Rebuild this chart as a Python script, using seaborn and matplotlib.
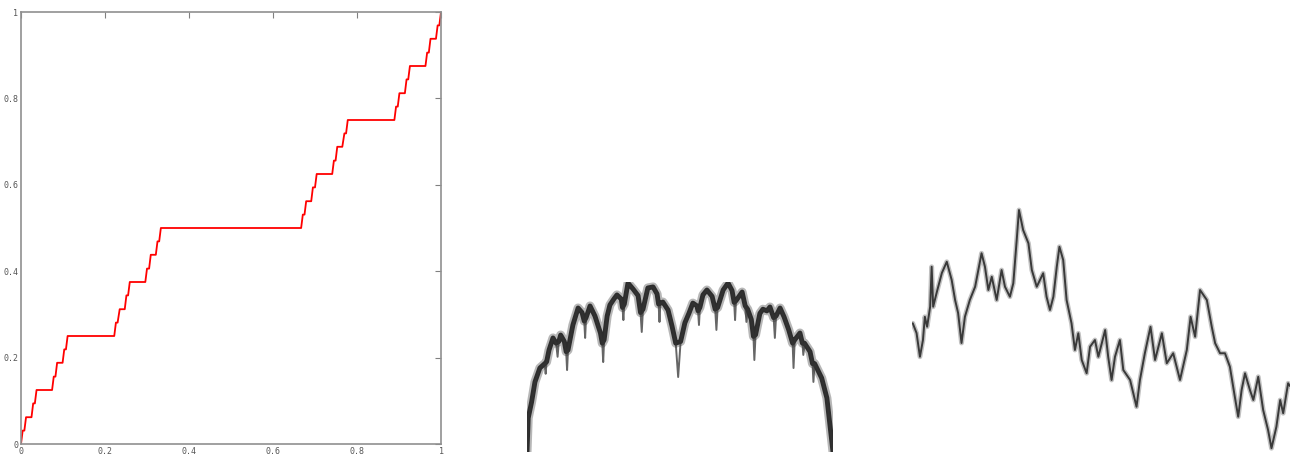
import numpy as np
import pandas as pd
import seaborn as sns
import matplotlib.pyplot as plt

# лестница Кантора: горизонтальные ступени (начало, конец, уровень)
step_start = [0.004, 0.012, 0.029, 0.037, 0.078, 0.086, 0.103, 0.111, 0.226, 0.235, 0.251,
              0.259, 0.300, 0.309, 0.325, 0.333, 0.671, 0.679, 0.695, 0.704, 0.745, 0.753,
              0.770, 0.778, 0.893, 0.901, 0.918, 0.926, 0.967, 0.975, 0.992]
step_end = [0.008, 0.025, 0.033, 0.074, 0.082, 0.099, 0.107, 0.222, 0.230, 0.247, 0.255,
            0.296, 0.305, 0.321, 0.329, 0.667, 0.675, 0.691, 0.700, 0.741, 0.749, 0.765,
            0.774, 0.889, 0.897, 0.914, 0.922, 0.963, 0.971, 0.988, 0.996]
step_level = [0.031, 0.062, 0.094, 0.125, 0.156, 0.188, 0.219, 0.250, 0.281, 0.312, 0.344,
              0.375, 0.406, 0.438, 0.469, 0.500, 0.531, 0.562, 0.594, 0.625, 0.656, 0.688,
              0.719, 0.750, 0.781, 0.812, 0.844, 0.875, 0.906, 0.938, 0.969]

# средняя кривая ("арка" с узкими провалами)
arch_t = [0.000, 0.004, 0.015, 0.026, 0.042, 0.058, 0.061, 0.064, 0.072, 0.085,
          0.095, 0.100, 0.104, 0.110, 0.122, 0.128, 0.131, 0.134, 0.150, 0.167,
          0.180, 0.187, 0.190, 0.193, 0.206, 0.222, 0.240, 0.246, 0.249, 0.252,
          0.262, 0.271, 0.284, 0.294, 0.308, 0.312, 0.315, 0.318, 0.330, 0.346,
          0.363, 0.371, 0.375, 0.379, 0.395, 0.412, 0.425, 0.430, 0.433, 0.436,
          0.444, 0.461, 0.474, 0.486, 0.494, 0.502, 0.516, 0.529, 0.542, 0.555,
          0.559, 0.562, 0.565, 0.575, 0.588, 0.605, 0.615, 0.619, 0.623, 0.641,
          0.657, 0.670, 0.677, 0.680, 0.683, 0.703, 0.713, 0.717, 0.721, 0.733,
          0.740, 0.743, 0.747, 0.761, 0.771, 0.784, 0.794, 0.806, 0.810, 0.814,
          0.827, 0.840, 0.855, 0.868, 0.871, 0.875, 0.892, 0.900, 0.903, 0.907,
          0.925, 0.933, 0.936, 0.940, 0.963, 0.980, 0.990, 1.000]
arch_v = [0.000, 0.200, 0.294, 0.412, 0.494, 0.520, 0.460, 0.530, 0.600, 0.671,
          0.640, 0.560, 0.650, 0.688, 0.650, 0.590, 0.482, 0.600, 0.747, 0.847,
          0.820, 0.770, 0.671, 0.790, 0.859, 0.800, 0.700, 0.640, 0.529, 0.660,
          0.800, 0.865, 0.900, 0.924, 0.900, 0.850, 0.776, 0.870, 0.994, 0.960,
          0.920, 0.820, 0.706, 0.840, 0.965, 0.971, 0.930, 0.870, 0.765, 0.875,
          0.882, 0.835, 0.740, 0.640, 0.441, 0.650, 0.760, 0.815, 0.876, 0.860,
          0.830, 0.747, 0.850, 0.924, 0.953, 0.915, 0.840, 0.718, 0.850, 0.953,
          0.994, 0.950, 0.880, 0.776, 0.890, 0.941, 0.860, 0.765, 0.840, 0.780,
          0.680, 0.541, 0.690, 0.815, 0.840, 0.830, 0.853, 0.790, 0.671, 0.800,
          0.847, 0.795, 0.720, 0.640, 0.494, 0.660, 0.700, 0.640, 0.571, 0.640,
          0.590, 0.520, 0.412, 0.520, 0.435, 0.318, 0.159, 0.000]

# правая кривая (блуждание)
walk_t = [0.002, 0.012, 0.021, 0.029, 0.034, 0.040, 0.048, 0.052, 0.056, 0.065, 0.079, 0.092,
          0.105, 0.114, 0.122, 0.131, 0.140, 0.153, 0.167, 0.184, 0.193, 0.202, 0.211, 0.224,
          0.237, 0.246, 0.259, 0.268, 0.277, 0.283, 0.294, 0.308, 0.317, 0.330, 0.347, 0.356,
          0.365, 0.374, 0.383, 0.390, 0.400, 0.409, 0.422, 0.431, 0.440, 0.449, 0.462, 0.471,
          0.484, 0.493, 0.511, 0.519, 0.528, 0.537, 0.550, 0.559, 0.577, 0.594, 0.603, 0.616,
          0.631, 0.643, 0.661, 0.674, 0.691, 0.709, 0.727, 0.737, 0.749, 0.762, 0.780, 0.793,
          0.802, 0.815, 0.828, 0.841, 0.854, 0.863, 0.872, 0.881, 0.894, 0.903, 0.916, 0.929,
          0.942, 0.951, 0.964, 0.974, 0.982, 0.995, 1.000]
walk_v = [0.527, 0.488, 0.393, 0.460, 0.553, 0.513, 0.593, 0.753, 0.593, 0.648, 0.728, 0.773,
          0.700, 0.620, 0.568, 0.448, 0.553, 0.620, 0.673, 0.807, 0.753, 0.660, 0.713, 0.620,
          0.740, 0.673, 0.633, 0.687, 0.860, 0.980, 0.900, 0.847, 0.740, 0.673, 0.727, 0.633,
          0.580, 0.633, 0.753, 0.833, 0.780, 0.620, 0.527, 0.420, 0.487, 0.380, 0.327, 0.433,
          0.460, 0.393, 0.500, 0.393, 0.300, 0.393, 0.460, 0.340, 0.300, 0.193, 0.300, 0.407,
          0.513, 0.380, 0.487, 0.367, 0.407, 0.300, 0.420, 0.553, 0.473, 0.660, 0.620, 0.513,
          0.447, 0.407, 0.407, 0.353, 0.233, 0.153, 0.260, 0.327, 0.260, 0.220, 0.313, 0.180,
          0.100, 0.027, 0.113, 0.220, 0.167, 0.287, 0.276]

# собираем ломаную лестницы из ступеней
sx = [0.0]
sy = [0.0]
for a, b, lv in zip(step_start, step_end, step_level):
    sx += [a, b]
    sy += [lv, lv]
sx.append(1.0)
sy.append(1.0)
stairs = pd.DataFrame({'x': sx, 'y': sy})
arch = pd.DataFrame({'t': arch_t, 'v': arch_v})
walk = pd.DataFrame({'t': walk_t, 'v': walk_v})

# "тело" арки без узких провалов - рисуется толще
v = arch.v.values
is_dip = np.zeros(len(v), dtype=bool)
is_dip[1:-1] = (v[1:-1] < v[:-2] - 0.05) & (v[1:-1] < v[2:] - 0.05)
arch_body = arch[~is_dip]

sns.set_style('white')
fig = plt.figure(figsize=(12.9, 4.55), dpi=100)
W, H = 1290, 455

# левый график
ax1 = fig.add_axes([21 / W, 11 / H, 420 / W, 432 / H])
sns.lineplot(data=stairs, x='x', y='y', sort=False, estimator=None, color='#ff0000',
             linewidth=1.3, ax=ax1)
ax1.set_xlim(0, 1)
ax1.set_ylim(0, 1)
ticks = [0, 0.2, 0.4, 0.6, 0.8, 1]
labels = ['0', '0.2', '0.4', '0.6', '0.8', '1']
ax1.set_xticks(ticks)
ax1.set_xticklabels(labels)
ax1.set_yticks(ticks)
ax1.set_yticklabels(labels)
ax1.tick_params(direction='in', length=4, width=0.8, color='#808080', top=True, right=True,
                labelsize=6, labelcolor='#555555', pad=2)
for lab in ax1.get_xticklabels() + ax1.get_yticklabels():
    lab.set_family('DejaVu Sans Mono')
for sp in ax1.spines.values():
    sp.set_color('#909090')
    sp.set_linewidth(1.2)
ax1.set_xlabel('')
ax1.set_ylabel('')

# средний график
ax2 = fig.add_axes([527 / W, 3 / H, 306 / W, 170 / H])
sns.lineplot(data=arch_body, x='t', y='v', sort=False, estimator=None, color='#333333',
             linewidth=6.5, alpha=0.35, ax=ax2)
sns.lineplot(data=arch_body, x='t', y='v', sort=False, estimator=None, color='#151515',
             linewidth=3.5, alpha=0.85, ax=ax2)
sns.lineplot(data=arch, x='t', y='v', sort=False, estimator=None, color='#333333',
             linewidth=1.4, alpha=0.75, ax=ax2)
ax2.set_xlim(0, 1)
ax2.set_ylim(0, 1)
ax2.set_axis_off()

# правый график
ax3 = fig.add_axes([912 / W, 0 / H, 378 / W, 250 / H])
sns.lineplot(data=walk, x='t', y='v', sort=False, estimator=None, color='#777777',
             linewidth=3.5, alpha=0.45, ax=ax3)
sns.lineplot(data=walk, x='t', y='v', sort=False, estimator=None, color='#2a2a2a',
             linewidth=1.4, alpha=0.9, ax=ax3)
ax3.set_xlim(0, 1)
ax3.set_ylim(0, 1)
ax3.set_axis_off()

plt.savefig('out.png', dpi=100)
